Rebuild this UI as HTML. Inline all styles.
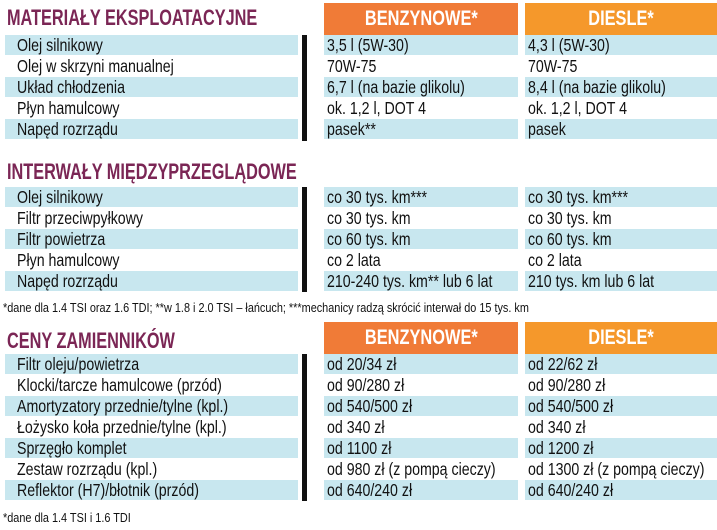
<!DOCTYPE html>
<html><head><meta charset="utf-8"><style>
body{margin:0;width:717px;height:530px;background:#fff;position:relative;overflow:hidden;font-family:"Liberation Sans",sans-serif;color:#111}
s{text-decoration:none;display:inline-block;transform-origin:0 50%}
.t{position:absolute;left:7px;font-weight:bold;color:#7b2655;font-size:22px;line-height:24px;white-space:nowrap}
.t s{transform:scaleX(.74)}
.h{position:absolute;height:32px;color:#fff;font-weight:bold;font-size:21px;line-height:32px;text-align:center;white-space:nowrap}
.h s{transform:scaleX(.78);transform-origin:50% 50%}
.hb{left:324px;width:194px;background:#f07b37}
.hd{left:525px;width:192px;background:#f5982b}
.r{position:absolute;height:20px;font-size:17.5px;line-height:21px;white-space:nowrap;overflow:hidden}
.r s{transform:scaleX(.81)}
.r.a{left:5px;width:281px;padding-left:12px}
.r.b{left:324px;width:191px;padding-left:3px}
.r.c{left:525px;width:189px;padding-left:3px}
.bl{background:#c8e7ef}
.bar{position:absolute;left:302px;width:5px;background:#111}
.f{position:absolute;left:3px;font-size:12.5px;line-height:14px;white-space:nowrap}
.f s{transform:scaleX(.87)}
</style></head><body>
<div class="t" style="top:6px"><s>MATERIAŁY EKSPLOATACYJNE</s></div>
<div class="h hb" style="top:3px"><s>BENZYNOWE*</s></div>
<div class="h hd" style="top:3px"><s>DIESLE*</s></div>
<div class="bar" style="top:35px;height:106px"></div>

<div class="r a bl" style="top:35px"><s>Olej silnikowy</s></div>
<div class="r b bl" style="top:35px"><s>3,5 l (5W-30)</s></div>
<div class="r c bl" style="top:35px"><s>4,3 l (5W-30)</s></div>
<div class="r a" style="top:56px"><s>Olej w skrzyni manualnej</s></div>
<div class="r b" style="top:56px"><s>70W-75</s></div>
<div class="r c" style="top:56px"><s>70W-75</s></div>
<div class="r a bl" style="top:77px"><s>Układ chłodzenia</s></div>
<div class="r b bl" style="top:77px"><s>6,7 l (na bazie glikolu)</s></div>
<div class="r c bl" style="top:77px"><s>8,4 l (na bazie glikolu)</s></div>
<div class="r a" style="top:98px"><s>Płyn hamulcowy</s></div>
<div class="r b" style="top:98px"><s>ok. 1,2 l, DOT 4</s></div>
<div class="r c" style="top:98px"><s>ok. 1,2 l, DOT 4</s></div>
<div class="r a bl" style="top:119px"><s>Napęd rozrządu</s></div>
<div class="r b bl" style="top:119px"><s>pasek**</s></div>
<div class="r c bl" style="top:119px"><s>pasek</s></div>

<div class="t" style="top:160px"><s>INTERWAŁY MIĘDZYPRZEGLĄDOWE</s></div>
<div class="bar" style="top:187px;height:105px"></div>
<div class="r a bl" style="top:187px"><s>Olej silnikowy</s></div>
<div class="r b bl" style="top:187px"><s>co 30 tys. km***</s></div>
<div class="r c bl" style="top:187px"><s>co 30 tys. km***</s></div>
<div class="r a" style="top:208px"><s>Filtr przeciwpyłkowy</s></div>
<div class="r b" style="top:208px"><s>co 30 tys. km</s></div>
<div class="r c" style="top:208px"><s>co 30 tys. km</s></div>
<div class="r a bl" style="top:229px"><s>Filtr powietrza</s></div>
<div class="r b bl" style="top:229px"><s>co 60 tys. km</s></div>
<div class="r c bl" style="top:229px"><s>co 60 tys. km</s></div>
<div class="r a" style="top:250px"><s>Płyn hamulcowy</s></div>
<div class="r b" style="top:250px"><s>co 2 lata</s></div>
<div class="r c" style="top:250px"><s>co 2 lata</s></div>
<div class="r a bl" style="top:271px"><s>Napęd rozrządu</s></div>
<div class="r b bl" style="top:271px"><s>210-240 tys. km** lub 6 lat</s></div>
<div class="r c bl" style="top:271px"><s>210 tys. km lub 6 lat</s></div>
<div class="f" style="top:301px"><s>*dane dla 1.4 TSI oraz 1.6 TDI; **w 1.8 i 2.0 TSI – łańcuch; ***mechanicy radzą skrócić interwał do 15 tys. km</s></div>

<div class="t" style="top:329px"><s>CENY ZAMIENNIKÓW</s></div>
<div class="h hb" style="top:322px"><s>BENZYNOWE*</s></div>
<div class="h hd" style="top:322px"><s>DIESLE*</s></div>
<div class="bar" style="top:354px;height:147px"></div>
<div class="r a bl" style="top:354px"><s>Filtr oleju/powietrza</s></div>
<div class="r b bl" style="top:354px"><s>od 20/34 zł</s></div>
<div class="r c bl" style="top:354px"><s>od 22/62 zł</s></div>
<div class="r a" style="top:375px"><s>Klocki/tarcze hamulcowe (przód)</s></div>
<div class="r b" style="top:375px"><s>od 90/280 zł</s></div>
<div class="r c" style="top:375px"><s>od 90/280 zł</s></div>
<div class="r a bl" style="top:396px"><s>Amortyzatory przednie/tylne (kpl.)</s></div>
<div class="r b bl" style="top:396px"><s>od 540/500 zł</s></div>
<div class="r c bl" style="top:396px"><s>od 540/500 zł</s></div>
<div class="r a" style="top:417px"><s>Łożysko koła przednie/tylne (kpl.)</s></div>
<div class="r b" style="top:417px"><s>od 340 zł</s></div>
<div class="r c" style="top:417px"><s>od 340 zł</s></div>
<div class="r a bl" style="top:438px"><s>Sprzęgło komplet</s></div>
<div class="r b bl" style="top:438px"><s>od 1100 zł</s></div>
<div class="r c bl" style="top:438px"><s>od 1200 zł</s></div>
<div class="r a" style="top:459px"><s>Zestaw rozrządu (kpl.)</s></div>
<div class="r b" style="top:459px"><s>od 980 zł (z pompą cieczy)</s></div>
<div class="r c" style="top:459px"><s>od 1300 zł (z pompą cieczy)</s></div>
<div class="r a bl" style="top:480px"><s>Reflektor (H7)/błotnik (przód)</s></div>
<div class="r b bl" style="top:480px"><s>od 640/240 zł</s></div>
<div class="r c bl" style="top:480px"><s>od 640/240 zł</s></div>
<div class="f" style="top:511px"><s>*dane dla 1.4 TSI i 1.6 TDI</s></div>
</body></html>
